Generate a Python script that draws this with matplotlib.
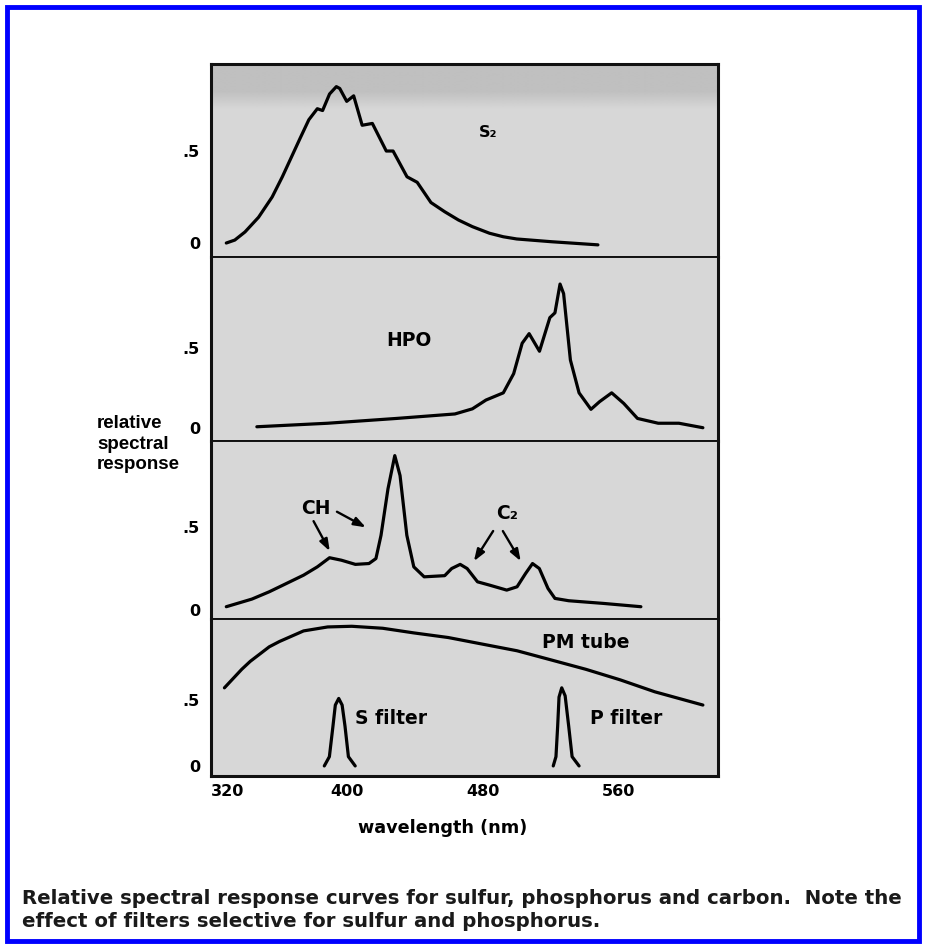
import matplotlib
matplotlib.use("Agg")
import matplotlib.pyplot as plt
from matplotlib.patches import Rectangle
from matplotlib.colors import to_rgb
import numpy as np

plt.rcParams['font.family'] = ['DejaVu Sans']
plt.rcParams['font.weight'] = 'bold'

# S2 emission (panel 1)
s2_nm = [329, 334, 340, 348, 356, 362, 372.5, 377.6, 382.6, 385.7, 389.8, 393.8, 395.8,
         399.9, 404, 409, 415, 423.2, 427.2, 435.4, 441.4, 449.5, 457.6, 465.7, 473.9,
         484, 492.1, 500, 520.5, 547.8]
s2_val = [0.0, 0.016, 0.06, 0.14, 0.25, 0.36, 0.57, 0.67, 0.73, 0.72, 0.81, 0.85, 0.84,
          0.77, 0.80, 0.64, 0.65, 0.50, 0.50, 0.36, 0.33, 0.22, 0.17, 0.125, 0.089,
          0.053, 0.034, 0.022, 0.007, -0.01]

# HPO emission (panel 2)
hpo_nm = [347, 388.7, 429.2, 463.6, 473.9, 481.9, 492.1, 498.2, 503.2, 507.3, 513.4,
          519.5, 522.5, 525.5, 527.6, 531.6, 536.7, 543.7, 548.8, 555.9, 563, 571.1,
          583.3, 595.5, 609.6]
hpo_val = [0.008, 0.03, 0.06, 0.088, 0.12, 0.175, 0.22, 0.34, 0.53, 0.59, 0.48,
           0.69, 0.72, 0.90, 0.84, 0.425, 0.22, 0.117, 0.165, 0.22, 0.154, 0.06,
           0.03, 0.03, 0.002]

# carbon (CH, C2) emission (panel 3)
c_nm = [329, 344.1, 354.3, 362.4, 374.5, 382.6, 389.8, 396.8, 405, 413, 417.1, 420.1,
        424.2, 428.2, 431.3, 435.3, 439.4, 445.5, 457.6, 461.7, 466.7, 470.8, 476.9,
        484, 494.1, 500.2, 505.2, 509.3, 513.3, 518.4, 522.5, 530.6, 550.9, 573.1]
c_val = [0.02, 0.066, 0.11, 0.15, 0.21, 0.26, 0.315, 0.30, 0.275, 0.28, 0.31, 0.45,
         0.73, 0.93, 0.81, 0.45, 0.26, 0.20, 0.207, 0.25, 0.275, 0.25, 0.17, 0.15,
         0.12, 0.14, 0.22, 0.28, 0.25, 0.13, 0.07, 0.056, 0.04, 0.02]

# photomultiplier tube response and filters (panel 4)
pm_nm = [327.9, 333, 338.1, 343.1, 348.2, 354.3, 360.3, 374.5, 388.7, 402.9, 421.1,
         439.4, 459.7, 479.9, 500.2, 520.5, 540.7, 561, 581.3, 609.6]
pm_val = [0.59, 0.66, 0.73, 0.79, 0.84, 0.90, 0.94, 1.02, 1.05, 1.055, 1.04, 1.005,
          0.97, 0.92, 0.87, 0.80, 0.73, 0.65, 0.56, 0.46]

sf_nm = [386.7, 389.7, 391.8, 393.2, 395.2, 397.2, 398.9, 400.9, 404.9]
sf_val = [0.0, 0.07, 0.30, 0.46, 0.51, 0.46, 0.30, 0.07, 0.0]

pf_nm = [521.5, 523.1, 524.1, 524.9, 526.5, 528.5, 530.6, 532.6, 536.7]
pf_val = [0.0, 0.07, 0.30, 0.52, 0.59, 0.53, 0.30, 0.07, 0.0]

x_ticks = [320, 400, 480, 560]
y_ticks = [0, 0.5]
y_ticklabels = ['0', '.5']

W, H = 926, 947
fig = plt.figure(figsize=(W / 100, H / 100), dpi=100)

# panel edges in pixels (top, bottom) and y-limits
left_px, right_px = 211, 718
panels = [(64, 257, (-0.076, 0.973)),
          (257, 441, (-0.081, 1.069)),
          (441, 619, (-0.054, 1.018)),
          (619, 776, (-0.076, 1.11))]

bg = '#d7d7d7'
axes = []
for i, (top, bot, ylim) in enumerate(panels):
    ax = fig.add_axes([left_px / W, 1 - bot / H, (right_px - left_px) / W, (bot - top) / H])
    ax.set_facecolor(bg)
    ax.set_xlim(320, 618.5)
    ax.set_ylim(*ylim)
    ax.set_yticks(y_ticks)
    ax.set_yticklabels(y_ticklabels)
    ax.tick_params(length=0, labelsize=11.5, pad=8)
    for s in ax.spines.values():
        s.set_linewidth(1.4)
        s.set_color('#111111')
    ax.spines['left'].set_linewidth(2.2)
    ax.spines['right'].set_linewidth(2.2)
    if i == 0:
        ax.spines['top'].set_linewidth(2.2)
    if i == 3:
        ax.spines['bottom'].set_linewidth(2.2)
        ax.set_xticks(x_ticks)
        ax.set_xticklabels([str(t) for t in x_ticks])
        ax.tick_params(axis='x', pad=6)
        ax.get_xticklabels()[0].set_horizontalalignment('left')
    else:
        ax.set_xticks([])
    axes.append(ax)

# darker scanned band at the top of the first panel
band = np.zeros((100, 1, 4))
band[:, :, :3] = to_rgb('#b9b9b9')
alpha = np.clip(np.linspace(0, 1, 100) * 2.6, 0, 1) * 0.75
band[:, 0, 3] = alpha
axes[0].imshow(band, extent=(320, 618.5, 0.73, 0.973), aspect='auto', origin='lower',
               zorder=0, interpolation='bilinear')
axes[0].set_xlim(320, 618.5)
axes[0].set_ylim(*panels[0][2])

lw = 2.3
kw = dict(color='black', lw=lw, solid_joinstyle='round', solid_capstyle='round')
fs = 13.5

ax1, ax2, ax3, ax4 = axes
ax1.plot(s2_nm, s2_val, **kw)
ax1.text(483, 0.60, 'S₂', fontsize=11.5, ha='center', va='center')

ax2.plot(hpo_nm, hpo_val, **kw)
ax2.text(436.4, 0.55, 'HPO', fontsize=fs, ha='center', va='center')

ax3.plot(c_nm, c_val, **kw)
ax3.text(381.6, 0.61, 'CH', fontsize=fs, ha='center', va='center')
ax3.text(494.1, 0.58, 'C₂', fontsize=fs, ha='center', va='center')
arr = dict(arrowstyle='-|>,head_length=0.7,head_width=0.25', color='black', lw=1.7)
ax3.annotate('', xy=(390.7, 0.34), xytext=(379.6, 0.55), arrowprops=arr)
ax3.annotate('', xy=(412.6, 0.49), xytext=(392.7, 0.60), arrowprops=arr)
ax3.annotate('', xy=(473.9, 0.28), xytext=(487, 0.49), arrowprops=arr)
ax3.annotate('', xy=(503.2, 0.28), xytext=(491, 0.49), arrowprops=arr)

ax4.plot(pm_nm, pm_val, **kw)
ax4.plot(sf_nm, sf_val, **kw)
ax4.plot(pf_nm, pf_val, **kw)
ax4.text(540.7, 0.93, 'PM tube', fontsize=fs, ha='center', va='center')
ax4.text(405, 0.36, 'S filter', fontsize=fs, ha='left', va='center')
ax4.text(543, 0.36, 'P filter', fontsize=fs, ha='left', va='center')

fig.text(443 / W, 1 - 828 / H, 'wavelength (nm)', fontsize=12.7, ha='center', va='center')
fig.text(97 / W, 1 - 444 / H, 'relative\nspectral\nresponse', fontsize=13.5,
         family='Liberation Sans', ha='left', va='center', linespacing=1.3)

fig.text(22 / W, 1 - 898 / H,
         'Relative spectral response curves for sulfur, phosphorus and carbon.  Note the',
         fontsize=14.2, ha='left', va='center', color='#1a1a1a')
fig.text(22 / W, 1 - 921 / H, 'effect of filters selective for sulfur and phosphorus.',
         fontsize=14.2, ha='left', va='center', color='#1a1a1a')

# blue frame round the whole figure
fig.patches.append(Rectangle((7 / W, 6 / H), 1 - 14 / W, 1 - 13 / H,
                             transform=fig.transFigure, fill=False,
                             edgecolor='#0000ff', lw=3.5))

fig.savefig('out.png', dpi=100)
